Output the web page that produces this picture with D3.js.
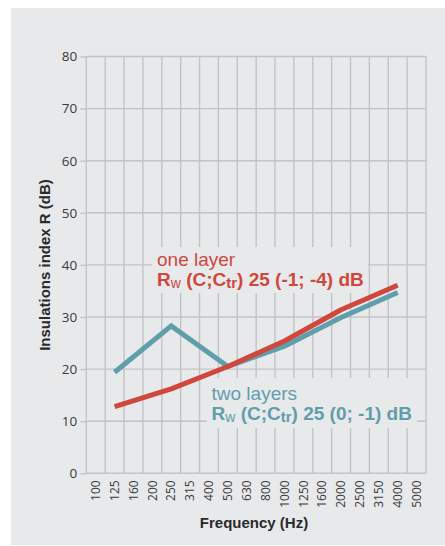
<!DOCTYPE html>
<html>
<head>
<meta charset="utf-8">
<script src="https://cdn.jsdelivr.net/npm/d3@7"></script>
<style>
  html, body { margin: 0; padding: 0; background: #ffffff; }
  svg { display: block; }
</style>
</head>
<body>
<svg id="chart" width="445" height="546"></svg>
<script>
// Third-octave frequency bands on the x axis
const frequencies = ["100", "125", "160", "200", "250", "315", "400", "500", "630",
  "800", "1000", "1250", "1600", "2000", "2500", "3150", "4000", "5000"];

// Octave-band points of each curve
const seriesFreqs = ["125", "250", "500", "1000", "2000", "4000"];
const oneLayer = [12.8, 16.2, 20.5, 25.4, 31.4, 36.1];
const twoLayers = [19.4, 28.3, 20.5, 24.4, 29.9, 34.7];

const yTicks = [0, 10, 20, 30, 40, 50, 60, 70, 80];

const RED = "#d0473c";
const TEAL = "#5f9eab";
const PANEL = "#e8e9eb";
const GRID = "#c2c3c5";

const svg = d3.select("#chart");

// background panel
svg.append("rect")
  .attr("x", 11).attr("y", 8).attr("width", 434).attr("height", 537)
  .attr("fill", PANEL);

const plot = { left: 86.3, right: 426, top: 56.5, bottom: 473.3 };

const x = d3.scaleBand().domain(frequencies).range([plot.left, plot.right]).padding(0);
const y = d3.scaleLinear().domain([0, 80]).range([plot.bottom, plot.top]);

const g = svg.append("g");

// vertical grid lines at band edges
const edges = frequencies.map(f => x(f)).concat([x(frequencies[frequencies.length - 1]) + x.bandwidth()]);
g.selectAll("line.vgrid").data(edges).join("line")
  .attr("class", "vgrid")
  .attr("x1", d => d).attr("x2", d => d)
  .attr("y1", plot.top).attr("y2", plot.bottom)
  .attr("stroke", GRID).attr("stroke-width", 1.4);

// horizontal grid lines
g.selectAll("line.hgrid").data(yTicks).join("line")
  .attr("class", "hgrid")
  .attr("x1", plot.left).attr("x2", plot.right)
  .attr("y1", d => y(d)).attr("y2", d => y(d))
  .attr("stroke", GRID).attr("stroke-width", 1.4);

// y axis ticks and labels
const yAxis = d3.axisLeft(y).tickValues(yTicks).tickSize(6).tickPadding(3);
const yG = svg.append("g").attr("transform", `translate(${plot.left},0)`).call(yAxis);
yG.select(".domain").remove();
yG.selectAll(".tick line").attr("stroke", GRID).attr("stroke-width", 1.4);
yG.selectAll(".tick text")
  .attr("fill", "#3a3a3a")
  .style("font-family", "'Open Sans', sans-serif")
  .style("font-size", "13.5px");

// x axis labels, rotated
const xAxis = d3.axisBottom(x).tickSize(0).tickPadding(0);
const xG = svg.append("g").attr("transform", `translate(0,${plot.bottom})`).call(xAxis);
xG.select(".domain").remove();
xG.selectAll(".tick text")
  .attr("transform", "translate(0,7) rotate(-90)")
  .attr("x", 0).attr("y", 0).attr("dy", "0.35em")
  .attr("text-anchor", "end")
  .attr("fill", "#3a3a3a")
  .style("font-family", "'Open Sans', sans-serif")
  .style("font-size", "12px");

// axis titles
svg.append("text")
  .attr("x", 254).attr("y", 528)
  .attr("text-anchor", "middle")
  .attr("fill", "#2a2a2a")
  .style("font-family", "'Liberation Sans Narrow', sans-serif")
  .style("font-weight", "bold")
  .style("font-size", "15px")
  .text("Frequency (Hz)");

svg.append("text")
  .attr("transform", "translate(50,265) rotate(-90)")
  .attr("text-anchor", "middle")
  .attr("fill", "#2a2a2a")
  .style("font-family", "'Liberation Sans Narrow', sans-serif")
  .style("font-weight", "bold")
  .style("font-size", "15px")
  .text("Insulations index R (dB)");

// label backgrounds hide the grid behind the annotations
svg.append("rect").attr("x", 152).attr("y", 247).attr("width", 216).attr("height", 46).attr("fill", PANEL);
svg.append("rect").attr("x", 207).attr("y", 378).attr("width", 210).attr("height", 50).attr("fill", PANEL);

// curves
const line = d3.line()
  .x(d => x(d[0]) + x.bandwidth() / 2)
  .y(d => y(d[1]));

svg.append("path")
  .datum(seriesFreqs.map((f, i) => [f, twoLayers[i]]))
  .attr("d", line)
  .attr("fill", "none").attr("stroke", TEAL).attr("stroke-width", 5)
  .attr("stroke-linejoin", "miter");

svg.append("path")
  .datum(seriesFreqs.map((f, i) => [f, oneLayer[i]]))
  .attr("d", line)
  .attr("fill", "none").attr("stroke", RED).attr("stroke-width", 5)
  .attr("stroke-linejoin", "round");

// annotations
function annotate(xPos, yTop, color, title, values) {
  svg.append("text")
    .attr("x", xPos).attr("y", yTop)
    .attr("fill", color)
    .style("font-family", "'Liberation Sans Narrow', sans-serif")
    .style("font-size", "19px")
    .text(title);
  const t = svg.append("text")
    .attr("x", xPos).attr("y", yTop + 20)
    .attr("fill", color)
    .style("font-family", "'Liberation Sans Narrow', sans-serif")
    .style("font-weight", "bold")
    .style("font-size", "19px");
  t.append("tspan").text("R");
  t.append("tspan").attr("dy", 2).style("font-size", "14px").style("font-weight", "normal").text("w");
  t.append("tspan").attr("dy", -2).text(" (C;C");
  t.append("tspan").attr("dy", 2).style("font-size", "15px").text("tr");
  t.append("tspan").attr("dy", -2).text(`) 25 (${values}) dB`);
}

annotate(157, 266, RED, "one layer", "-1; -4");
annotate(211.5, 400, TEAL, "two layers", "0; -1");
</script>
</body>
</html>
